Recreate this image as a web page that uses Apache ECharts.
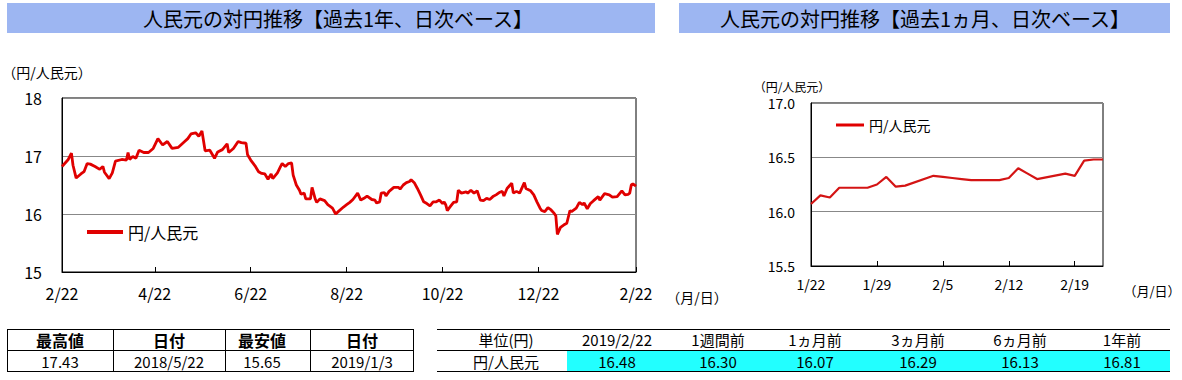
<!DOCTYPE html>
<html>
<head>
<meta charset="utf-8">
<script src="https://cdn.jsdelivr.net/npm/echarts@6/dist/echarts.min.js"></script>
<style>
html,body{margin:0;padding:0;background:#fff;}
#chart{width:1182px;height:380px;}
</style>
</head>
<body>
<div id="chart"></div>
<script>
// ---- Data: past 1 year (daily) ----
const yearDates = [
'2018-02-22','2018-02-26','2018-02-28','2018-03-01','2018-03-03','2018-03-06','2018-03-08','2018-03-10','2018-03-12','2018-03-15',
'2018-03-18','2018-03-20','2018-03-21','2018-03-24','2018-03-26','2018-03-28','2018-04-01','2018-04-04','2018-04-05','2018-04-06',
'2018-04-08','2018-04-10','2018-04-12','2018-04-15','2018-04-18','2018-04-21','2018-04-24','2018-04-27','2018-04-30','2018-05-02',
'2018-05-03','2018-05-07','2018-05-11','2018-05-13','2018-05-15','2018-05-18','2018-05-20','2018-05-22','2018-05-24','2018-05-27',
'2018-05-30','2018-06-01','2018-06-04','2018-06-07','2018-06-08','2018-06-11','2018-06-14','2018-06-16','2018-06-19','2018-06-20',
'2018-06-22','2018-06-25','2018-06-27','2018-06-29','2018-07-01','2018-07-03','2018-07-05','2018-07-06','2018-07-09','2018-07-11',
'2018-07-12','2018-07-14','2018-07-16','2018-07-18','2018-07-19','2018-07-21','2018-07-23','2018-07-24','2018-07-26','2018-07-27',
'2018-07-30','2018-07-31','2018-08-02','2018-08-03','2018-08-05','2018-08-08','2018-08-10','2018-08-13','2018-08-15','2018-08-17',
'2018-08-20','2018-08-22','2018-08-24','2018-08-26','2018-08-29','2018-08-31','2018-09-02','2018-09-04','2018-09-07','2018-09-09',
'2018-09-10','2018-09-12','2018-09-13','2018-09-15','2018-09-16','2018-09-18','2018-09-21','2018-09-24','2018-09-25','2018-09-27',
'2018-09-29','2018-10-01','2018-10-02','2018-10-04','2018-10-06','2018-10-08','2018-10-10','2018-10-12','2018-10-14','2018-10-16',
'2018-10-18','2018-10-20','2018-10-22','2018-10-23','2018-10-24','2018-10-25','2018-10-27','2018-10-29','2018-10-31','2018-11-01',
'2018-11-03','2018-11-06','2018-11-07','2018-11-09','2018-11-11','2018-11-13','2018-11-15','2018-11-17','2018-11-19','2018-11-21',
'2018-11-23','2018-11-25','2018-11-27','2018-11-29','2018-11-30','2018-12-02','2018-12-05','2018-12-06','2018-12-08','2018-12-10',
'2018-12-13','2018-12-14','2018-12-17','2018-12-19','2018-12-21','2018-12-23','2018-12-24','2018-12-26','2018-12-28','2018-12-30',
'2019-01-01','2019-01-02','2019-01-03','2019-01-05','2019-01-07','2019-01-09','2019-01-11','2019-01-12','2019-01-15','2019-01-17',
'2019-01-19','2019-01-20','2019-01-22','2019-01-24','2019-01-26','2019-01-29','2019-01-30','2019-02-02','2019-02-05','2019-02-07',
'2019-02-10','2019-02-13','2019-02-15','2019-02-17','2019-02-18','2019-02-19','2019-02-20','2019-02-22'
];
const yearValues = [
16.82,16.94,17.05,16.84,16.62,16.69,16.73,16.87,16.86,16.82,
16.77,16.82,16.72,16.61,16.71,16.91,16.94,16.93,17.06,16.94,
16.99,16.96,17.10,17.06,17.06,17.13,17.30,17.19,17.25,17.17,
17.13,17.15,17.25,17.30,17.38,17.40,17.34,17.43,17.09,17.10,
16.96,17.07,17.11,17.21,17.06,17.13,17.25,17.23,17.22,17.02,
16.93,16.82,16.73,16.70,16.69,16.60,16.69,16.61,16.71,16.82,
16.87,16.82,16.87,16.88,16.67,16.50,16.41,16.34,16.36,16.26,
16.26,16.46,16.26,16.20,16.26,16.23,16.16,16.10,16.00,16.05,
16.12,16.16,16.20,16.25,16.36,16.24,16.27,16.31,16.25,16.24,
16.19,16.21,16.36,16.37,16.31,16.39,16.46,16.46,16.43,16.50,
16.54,16.56,16.59,16.54,16.44,16.33,16.21,16.18,16.14,16.21,
16.21,16.24,16.18,16.21,16.16,16.06,16.13,16.20,16.21,16.41,
16.36,16.38,16.36,16.41,16.36,16.40,16.24,16.23,16.27,16.25,
16.30,16.33,16.37,16.39,16.31,16.44,16.53,16.36,16.39,16.36,
16.54,16.44,16.40,16.33,16.21,16.10,16.06,16.04,16.11,16.07,
16.01,15.97,15.65,15.77,15.81,15.84,16.06,16.04,16.10,16.20,
16.16,16.19,16.09,16.18,16.23,16.30,16.24,16.35,16.33,16.29,
16.30,16.40,16.33,16.34,16.36,16.50,16.52,16.48
];
const yearTicks = ['2018-02-22','2018-04-22','2018-06-22','2018-08-22','2018-10-22','2018-12-22','2019-02-22'];

// ---- Data: past 1 month (daily) ----
const monthDates = [
'2019-01-22','2019-01-23','2019-01-24','2019-01-25','2019-01-28','2019-01-29','2019-01-30','2019-01-31','2019-02-01','2019-02-04',
'2019-02-05','2019-02-06','2019-02-07','2019-02-08','2019-02-11','2019-02-12','2019-02-13','2019-02-14','2019-02-15','2019-02-18',
'2019-02-19','2019-02-20','2019-02-21','2019-02-22'
];
const monthValues = [
16.07,16.15,16.13,16.22,16.22,16.25,16.32,16.23,16.24,16.33,
16.32,16.31,16.30,16.29,16.29,16.31,16.40,16.35,16.30,16.35,
16.33,16.47,16.48,16.48
];
const monthTicks = ['2019-01-22','2019-01-29','2019-02-05','2019-02-12','2019-02-19'];

// ---- Tables ----
const statHeaders = ['最高値','日付','最安値','日付'];
const statValues = ['17.43','2018/5/22','15.65','2019/1/3'];
const cmpHeaders = ['単位(円)','2019/2/22','1週間前','1ヵ月前','3ヵ月前','6ヵ月前','1年前'];
const cmpValues = ['円/人民元','16.48','16.30','16.07','16.29','16.13','16.81'];

const seriesName = '円/人民元';
const FONT = '"Noto Sans CJK JP", "Noto Sans", sans-serif';

function ts(s){ const p=s.split('-').map(Number); return Date.UTC(p[0],p[1]-1,p[2]); }
function md(v){ const d=new Date(v); return (d.getUTCMonth()+1)+'/'+d.getUTCDate(); }

const yearData = yearDates.map((d,i)=>[ts(d), yearValues[i]]);
const monthData = monthDates.map((d,i)=>[ts(d), monthValues[i]]);

const chart = echarts.init(document.getElementById('chart'), null, {renderer:'svg'});

const g = [];
function txt(x,y,t,opt){ g.push({type:'text', x:x, y:y, style:Object.assign({text:t, fill:'#000', font:'15px '+FONT, textAlign:'center', textVerticalAlign:'middle', lineHeight:16}, opt||{})}); }
function line(x1,y1,x2,y2){ g.push({type:'line', shape:{x1:x1,y1:y1,x2:x2,y2:y2}, style:{stroke:'#000', lineWidth:1}}); }

// title bars
g.push({type:'rect', shape:{x:7,y:3,width:648,height:30}, style:{fill:'#9db6f2'}});
g.push({type:'rect', shape:{x:679,y:3,width:491,height:30}, style:{fill:'#9db6f2'}});
txt(338,18,'人民元の対円推移【過去1年、日次ベース】',{font:'20px '+FONT, lineHeight:22});
txt(925,18,'人民元の対円推移【過去1ヵ月、日次ベース】',{font:'20px '+FONT, lineHeight:22});

// axis names
txt(47,72,'（円/人民元）',{font:'14px '+FONT});
txt(792,86,'（円/人民元）',{font:'12px '+FONT, lineHeight:13});
txt(697,297,'（月/日）',{font:'14px '+FONT});
txt(1152,290,'（月/日）',{font:'13px '+FONT});

// left table
const lCols=[7,113,225,310,413];
line(7,329.5,413,329.5); line(7,350.5,413,350.5); line(7,371.5,413,371.5);
lCols.forEach(x=>line(x+0.5,329,x+0.5,372));
const lCenters=[60,169,262,362];
statHeaders.forEach((t,i)=>txt(lCenters[i],340,t,{font:'bold 16px '+FONT, lineHeight:17}));
statValues.forEach((t,i)=>txt(lCenters[i],361.5,t,{font:'15px '+FONT, lineHeight:16}));

// right table
g.push({type:'rect', shape:{x:567,y:350,width:603,height:21}, style:{fill:'#22ffff'}});
line(437,329.5,1170,329.5); line(437,350.5,1170,350.5); line(437,371.5,1170,371.5);
const rCenters=[506,617,718,815,918,1020,1122];
cmpHeaders.forEach((t,i)=>txt(rCenters[i],339.5,t,{font:'15px '+FONT, lineHeight:16}));
cmpValues.forEach((t,i)=>txt(rCenters[i],361.5,t,{font:'15px '+FONT, lineHeight:16}));

const option = {
  animation:false,
  textStyle:{fontFamily:FONT},
  grid:[
    {left:62, top:98, width:574, height:174, show:true, borderColor:'#000', borderWidth:1},
    {left:811, top:103, width:292, height:163, show:true, borderColor:'#000', borderWidth:1}
  ],
  legend:[
    {data:[seriesName], left:82, top:219, itemWidth:36, itemHeight:4, icon:'rect', itemGap:4,
     textStyle:{fontSize:16, color:'#000', fontFamily:FONT}},
    {data:[seriesName], left:831, top:113, itemWidth:28, itemHeight:3, icon:'rect', itemGap:4,
     textStyle:{fontSize:14, color:'#000', fontFamily:FONT}}
  ],
  xAxis:[
    {type:'value', gridIndex:0, min:ts('2018-02-22'), max:ts('2019-02-22'),
     axisLine:{lineStyle:{color:'#000'}},
     axisTick:{inside:true, length:5, lineStyle:{color:'#000'}, customValues: yearTicks.map(ts)},
     axisLabel:{customValues: yearTicks.map(ts), formatter:md, color:'#000', fontSize:16, margin:13, fontFamily:FONT},
     splitLine:{show:false}},
    {type:'value', gridIndex:1, min:ts('2019-01-22'), max:ts('2019-02-22'),
     axisLine:{lineStyle:{color:'#000'}},
     axisTick:{inside:true, length:5, lineStyle:{color:'#000'}, customValues: monthTicks.map(ts)},
     axisLabel:{customValues: monthTicks.map(ts), formatter:md, color:'#000', fontSize:14, margin:11, fontFamily:FONT},
     splitLine:{show:false}}
  ],
  yAxis:[
    {type:'value', gridIndex:0, min:15, max:18, interval:1,
     axisLine:{show:true, lineStyle:{color:'#000'}}, axisTick:{show:false},
     axisLabel:{color:'#000', fontSize:16, margin:20, fontFamily:FONT},
     splitLine:{lineStyle:{color:'#888', width:1}}},
    {type:'value', gridIndex:1, min:15.5, max:17, interval:0.5,
     axisLine:{show:true, lineStyle:{color:'#000'}}, axisTick:{show:false},
     axisLabel:{color:'#000', fontSize:14, margin:16, fontFamily:FONT, formatter:v=>v.toFixed(1)},
     splitLine:{lineStyle:{color:'#888', width:1}}}
  ],
  series:[
    {name:seriesName, type:'line', xAxisIndex:0, yAxisIndex:0, data:yearData, showSymbol:false, symbol:'none',
     lineStyle:{color:'#e00000', width:2.8}, itemStyle:{color:'#e00000'}},
    {name:seriesName, type:'line', xAxisIndex:1, yAxisIndex:1, data:monthData, showSymbol:false, symbol:'none',
     lineStyle:{color:'#d41414', width:2.2}, itemStyle:{color:'#d41414'}}
  ],
  graphic:g
};
chart.setOption(option);
</script>
</body>
</html>
